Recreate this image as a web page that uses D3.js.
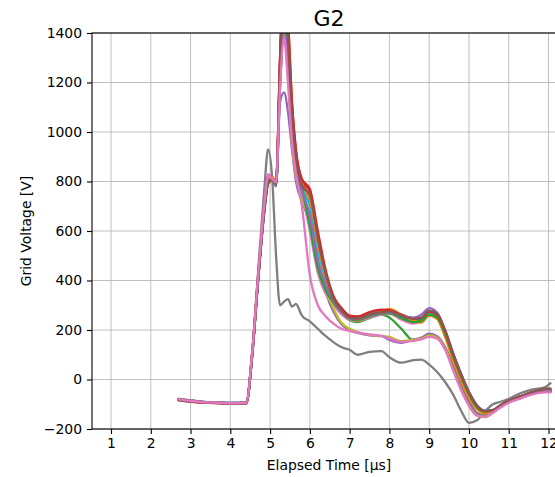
<!DOCTYPE html>
<meta charset="utf-8">
<style>
    body {
        margin: 0;
        background: #fff;
    }

    text {
        font-family: "DejaVu Sans", sans-serif;
        fill: #000;
    }

    .grid line {
        stroke: #b0b0b0;
        stroke-width: 0.8px;
    }

    .trace {
        fill: none;
        stroke-width: 2.3px;
        stroke-linejoin: round;
        stroke-linecap: round;
    }
</style>
<body>
<script src="https://d3js.org/d3.v7.min.js"></script>
<script>
    // sample times in microseconds, shared by every trace
    const times = [2.7, 3.0, 3.3, 3.6, 4.0, 4.4, 4.55, 4.7, 4.85, 4.95, 5.05, 5.15, 5.25, 5.35, 5.45, 5.55, 5.65, 5.8,
        6.0, 6.2, 6.4, 6.6, 6.8, 7.0, 7.2, 7.5, 7.8, 8.0, 8.3, 8.6, 8.8, 9.0, 9.2, 9.4, 9.6, 9.8,
        10.0, 10.2, 10.4, 10.6, 10.8, 11.0, 11.3, 11.6, 11.9, 12.05];

    // grid voltage [V] of each shot
    const shot0 = [-78,-84,-90,-92,-95,-94,105,415,685,800,812,790,1240,1560,1350,1030,870,770,650,470,380,320,278,250,244,258,270,272,252,232,242,272,258,192,100,18,-55,-108,-130,-126,-106,-88,-70,-53,-44,-44];
    const shot1 = [-82,-88,-93,-94,-97,-96,112,425,695,810,820,800,1260,1600,1380,1060,890,780,720,540,410,322,275,248,240,262,278,282,255,235,230,258,245,175,80,0,-70,-118,-135,-130,-110,-92,-74,-56,-48,-48];
    const shot2 = [-80,-85,-91,-93,-96,-95,100,410,680,795,810,785,1180,1450,1250,960,830,745,660,480,380,308,266,240,232,248,262,250,205,158,168,182,172,130,55,-25,-90,-135,-145,-132,-110,-92,-74,-56,-46,-47];
    const shot3 = [-84,-90,-94,-95,-98,-97,95,400,670,790,805,790,1300,1650,1450,1120,920,800,760,580,430,330,285,255,250,265,275,276,258,240,236,262,250,182,90,8,-60,-110,-128,-124,-104,-86,-68,-50,-42,-44];
    const shot4 = [-79,-85,-90,-92,-95,-94,108,418,690,800,805,780,1120,1160,1080,930,800,720,630,460,350,272,222,198,188,178,175,160,148,162,168,185,175,130,50,-30,-95,-138,-148,-130,-108,-90,-72,-56,-48,-50];
    const shot5 = [-80,-86,-91,-93,-96,-95,104,412,686,803,814,792,1230,1540,1340,1020,860,765,640,460,370,318,275,248,242,255,268,270,250,238,245,275,260,190,98,15,-58,-110,-130,-126,-104,-86,-68,-50,-40,-40];
    const shot6 = [-81,-87,-92,-94,-97,-96,106,420,700,830,815,800,1200,1400,1280,980,840,750,600,430,345,300,262,242,236,250,262,265,242,226,236,265,250,182,90,8,-64,-114,-134,-130,-110,-92,-74,-58,-50,-50];
    const shot7 = [-80,-86,-91,-93,-96,-95,100,440,760,930,820,500,300,315,325,295,305,258,235,205,175,150,130,120,100,112,115,90,68,78,80,60,30,-10,-60,-125,-175,-165,-130,-100,-90,-78,-55,-40,-32,-15];
    const shot8 = [-78,-84,-90,-92,-95,-94,102,412,684,798,808,788,1190,1420,1220,950,820,735,640,470,365,285,228,205,192,180,176,172,155,160,165,178,170,125,40,-40,-105,-145,-152,-135,-110,-90,-72,-56,-46,-48];
    const shot9 = [-79,-85,-91,-92,-95,-95,108,416,688,802,812,792,1250,1580,1360,1040,875,775,700,520,405,325,280,255,252,268,272,268,258,248,248,270,262,196,104,22,-52,-104,-126,-124,-104,-86,-68,-52,-44,-44];
    const shot10 = [-82,-88,-93,-94,-97,-96,100,405,678,796,808,790,1270,1620,1400,1080,900,790,740,560,420,328,282,252,246,262,272,270,256,242,246,276,262,190,96,14,-58,-110,-130,-126,-106,-88,-70,-54,-45,-46];
    const shot11 = [-80,-86,-92,-93,-96,-95,106,418,690,806,818,798,1280,1630,1420,1090,910,795,730,550,415,322,276,246,238,258,276,285,262,238,232,260,246,172,78,-4,-74,-120,-136,-130,-110,-92,-74,-58,-48,-48];
    const shot12 = [-81,-87,-92,-93,-96,-95,98,405,676,794,806,786,1240,1560,1350,1030,865,770,620,450,360,310,272,246,240,255,266,268,248,232,236,262,250,185,94,12,-60,-112,-130,-126,-106,-88,-70,-54,-45,-46];
    const shot13 = [-80,-86,-91,-93,-96,-95,102,410,684,800,812,794,1300,1680,1460,1120,930,810,770,600,440,335,288,258,255,272,282,280,262,248,250,274,262,195,102,20,-52,-106,-128,-124,-104,-86,-68,-52,-43,-44];
    const shot14 = [-79,-85,-90,-92,-95,-94,104,414,688,802,810,788,1190,1420,1260,990,850,760,660,480,380,318,272,248,244,260,270,272,258,250,262,288,270,200,108,24,-50,-104,-126,-124,-104,-86,-68,-52,-42,-42];
    const shot15 = [-81,-87,-92,-94,-97,-96,100,408,680,798,810,790,1260,1600,1390,1070,895,785,745,570,425,325,278,250,246,262,272,275,258,245,248,278,266,198,106,22,-52,-106,-128,-124,-104,-86,-68,-50,-38,-36];
    const shot16 = [-80,-86,-91,-93,-96,-95,108,422,700,820,812,796,1180,1380,1200,960,830,700,420,300,255,225,205,196,190,182,176,166,152,156,162,172,165,120,38,-42,-106,-146,-150,-134,-112,-94,-76,-60,-52,-52];

    const shots = [shot0, shot1, shot2, shot3, shot4, shot5, shot6, shot7, shot8,
        shot9, shot10, shot11, shot12, shot13, shot14, shot15, shot16];

    const xTicks = [1, 2, 3, 4, 5, 6, 7, 8, 9, 10, 11, 12];
    const yTicks = [-200, 0, 200, 400, 600, 800, 1000, 1200, 1400];

    const tab10 = ["#1f77b4", "#ff7f0e", "#2ca02c", "#d62728", "#9467bd",
        "#8c564b", "#e377c2", "#7f7f7f", "#bcbd22", "#17becf"];

    let figureWidth = 555, figureHeight = 477;
    // the axes run past the right edge of the picture
    let margin = {top: 33, left: 92},
        width = 474,
        height = 396;

    let x = d3.scaleLinear()
        .domain([0.522, 12.44])
        .range([0, width]);

    let y = d3.scaleLinear()
        .domain([-200, 1400])
        .range([height, 0]);

    let svg = d3.select("body")
        .append("svg")
        .attr("width", figureWidth)
        .attr("height", figureHeight)
        .append("g")
        .attr("transform", "translate(" + margin.left + "," + margin.top + ")");

    svg.append("clipPath")
        .attr("id", "plotArea")
        .append("rect")
        .attr("width", width)
        .attr("height", height);

    // Grid lines first, so the traces sit on top
    let grid = svg.append("g").attr("class", "grid");
    grid.selectAll(".vx")
        .data(xTicks)
        .enter().append("line")
        .attr("x1", d => x(d)).attr("x2", d => x(d))
        .attr("y1", 0).attr("y2", height);
    grid.selectAll(".hy")
        .data(yTicks)
        .enter().append("line")
        .attr("x1", 0).attr("x2", width)
        .attr("y1", d => y(d)).attr("y2", d => y(d));

    let line = d3.line()
        .x((d, i) => x(times[i]))
        .y(d => y(d))
        .curve(d3.curveMonotoneX);

    svg.append("g")
        .attr("clip-path", "url(#plotArea)")
        .selectAll("path")
        .data(shots)
        .enter().append("path")
        .attr("class", "trace")
        .attr("stroke", (d, i) => tab10[i % 10])
        .attr("stroke-width", (d, i) => i === 7 ? 3.2 : null)
        .attr("d", line);

    const fmt = d => d < 0 ? "\u2212" + Math.abs(d) : String(d);

    let gX = svg.append("g")
        .attr("transform", "translate(0," + height + ")")
        .call(d3.axisBottom(x).tickValues(xTicks).tickFormat(fmt).tickSize(5).tickPadding(4));

    let gY = svg.append("g")
        .call(d3.axisLeft(y).tickValues(yTicks).tickFormat(fmt).tickSize(5).tickPadding(5));

    [gX, gY].forEach(g => {
        g.select(".domain").remove();
        g.selectAll("line").attr("stroke", "#000").attr("stroke-width", 1.1);
        g.selectAll("text").style("font-size", "13.9px").attr("fill", "#000");
    });

    // the frame around the plot
    svg.append("rect")
        .attr("width", width)
        .attr("height", height)
        .attr("fill", "none")
        .attr("stroke", "#000")
        .attr("stroke-width", 1.1);

    svg.append("text")
        .attr("x", width / 2)
        .attr("y", -7)
        .attr("text-anchor", "middle")
        .style("font-size", "22px")
        .text("G2");

    svg.append("text")
        .attr("x", width / 2)
        .attr("y", 437)
        .attr("text-anchor", "middle")
        .style("font-size", "13.9px")
        .text("Elapsed Time [\u00b5s]");

    svg.append("text")
        .attr("transform", "translate(" + (-61) + "," + (height / 2) + ") rotate(-90)")
        .attr("text-anchor", "middle")
        .style("font-size", "13.9px")
        .text("Grid Voltage [V]");
</script>
</body>
